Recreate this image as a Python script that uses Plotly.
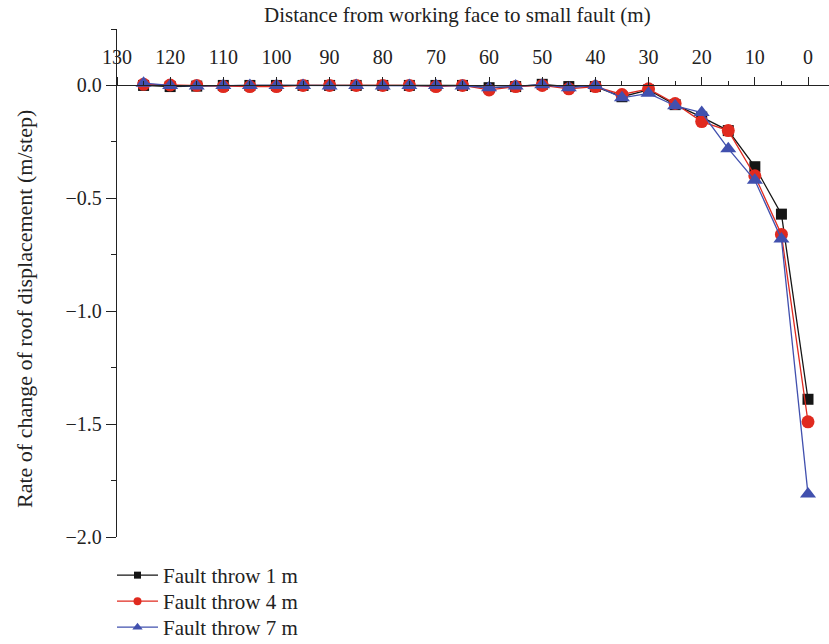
import plotly.graph_objects as go

# Distance from the working face to the fault (m)
distance = [125, 120, 115, 110, 105, 100, 95, 90, 85, 80, 75, 70, 65,
            60, 55, 50, 45, 40, 35, 30, 25, 20, 15, 10, 5, 0]

# Rate of change of roof displacement (m/step) for each fault throw
throw_1m = [0.0, -0.005, -0.003, 0.0, 0.0, 0.0, 0.0, 0.0, 0.0, 0.0, 0.0, 0.0, 0.0,
            -0.01, -0.005, 0.005, -0.005, -0.005, -0.05, -0.02, -0.085, -0.14,
            -0.20, -0.36, -0.57, -1.39]
throw_4m = [0.005, 0.002, 0.0, -0.005, -0.005, -0.005, 0.0, 0.0, 0.0, 0.0, 0.0, -0.005, 0.0,
            -0.02, -0.005, 0.0, -0.015, -0.005, -0.04, -0.015, -0.08, -0.16,
            -0.20, -0.40, -0.66, -1.49]
throw_7m = [0.01, 0.0, -0.002, 0.0, 0.0, 0.0, 0.0, -0.002, 0.0, -0.003, 0.0, 0.0, -0.002,
            -0.01, -0.003, 0.003, -0.01, 0.0, -0.055, -0.035, -0.09, -0.12,
            -0.28, -0.42, -0.68, -1.81]

series_names = ["Fault throw 1 m", "Fault throw 4 m", "Fault throw 7 m"]
series_colors = ["#151515", "#e02a1f", "#4150ae"]
series_symbols = ["square", "circle", "triangle-up"]
series_sizes = [11, 13, 14]
legend_sizes = [7, 8, 9]
legend_ids = ["legend", "legend2", "legend3"]

FONT = "Liberation Serif"
TEXT = "#222222"

fig = go.Figure()
for name, vals, color, sym, size in zip(series_names, [throw_1m, throw_4m, throw_7m],
                                        series_colors, series_symbols, series_sizes):
    fig.add_trace(go.Scatter(
        x=distance, y=vals, mode="lines+markers", name=name, showlegend=False,
        line=dict(color=color, width=1.3),
        marker=dict(symbol=sym, size=size, color=color),
    ))

# one legend per series so each row can sit in its own place below the axes
for name, color, sym, size, lid in zip(series_names, series_colors, series_symbols,
                                       legend_sizes, legend_ids):
    fig.add_trace(go.Scatter(
        x=[None], y=[None], mode="lines+markers", name=name, legend=lid,
        line=dict(color=color, width=1.3),
        marker=dict(symbol=sym, size=size, color=color),
    ))

y_min, y_max = -2.0, 0.25
zero_pos = (0 - y_min) / (y_max - y_min)

plot_top, plot_bottom, plot_left, plot_right = 29, 537, 117, 829
plot_h = plot_bottom - plot_top
plot_w = plot_right - plot_left


def py(pixel_y):
    return (plot_bottom - pixel_y) / plot_h


def px(pixel_x):
    return (pixel_x - plot_left) / plot_w


legend_common = dict(xanchor="left", yanchor="middle", bgcolor="rgba(0,0,0,0)",
                     borderwidth=0, font=dict(size=21, family=FONT, color=TEXT),
                     itemwidth=41, x=px(112))

fig.update_layout(
    width=829, height=644,
    margin=dict(l=plot_left, r=0, t=plot_top, b=644 - plot_bottom, autoexpand=False),
    paper_bgcolor="white", plot_bgcolor="white",
    font=dict(family=FONT, size=20, color=TEXT),
    showlegend=True,
    legend=dict(y=py(575.5), **legend_common),
    legend2=dict(y=py(601.5), **legend_common),
    legend3=dict(y=py(627.5), **legend_common),
    xaxis=dict(
        range=[130, -3.95], side="top", anchor="free", position=zero_pos,
        tickmode="linear", tick0=0, dtick=10,
        showline=True, linecolor=TEXT, linewidth=1.3,
        ticks="outside", ticklen=8, tickwidth=1.3, tickcolor=TEXT,
        minor=dict(dtick=5, tick0=0, ticks="outside", ticklen=4, tickwidth=1.2,
                   tickcolor=TEXT),
        showgrid=False, zeroline=False, ticklabelstandoff=5,
        tickfont=dict(size=20, family=FONT, color=TEXT),
    ),
    yaxis=dict(
        range=[y_min, y_max], tickmode="linear", tick0=0, dtick=0.5,
        tickformat=".1f",
        showline=True, linecolor=TEXT, linewidth=1.3,
        ticks="outside", ticklen=10, tickwidth=1.3, tickcolor=TEXT,
        minor=dict(dtick=0.25, tick0=0, ticks="outside", ticklen=5, tickwidth=1.2,
                   tickcolor=TEXT),
        showgrid=False, zeroline=False,
        tickfont=dict(size=20, family=FONT, color=TEXT),
    ),
    annotations=[
        dict(text="Distance from working face to small fault (m)",
             xref="paper", yref="paper", x=px(457), y=py(15),
             xanchor="center", yanchor="middle", showarrow=False,
             font=dict(size=21, family=FONT, color=TEXT)),
        dict(text="Rate of change of roof displacement (m/step)",
             xref="paper", yref="paper", x=px(24), y=py(309),
             xanchor="center", yanchor="middle", textangle=-90, showarrow=False,
             font=dict(size=22, family=FONT, color=TEXT)),
    ],
)

fig.write_html("out.html")
